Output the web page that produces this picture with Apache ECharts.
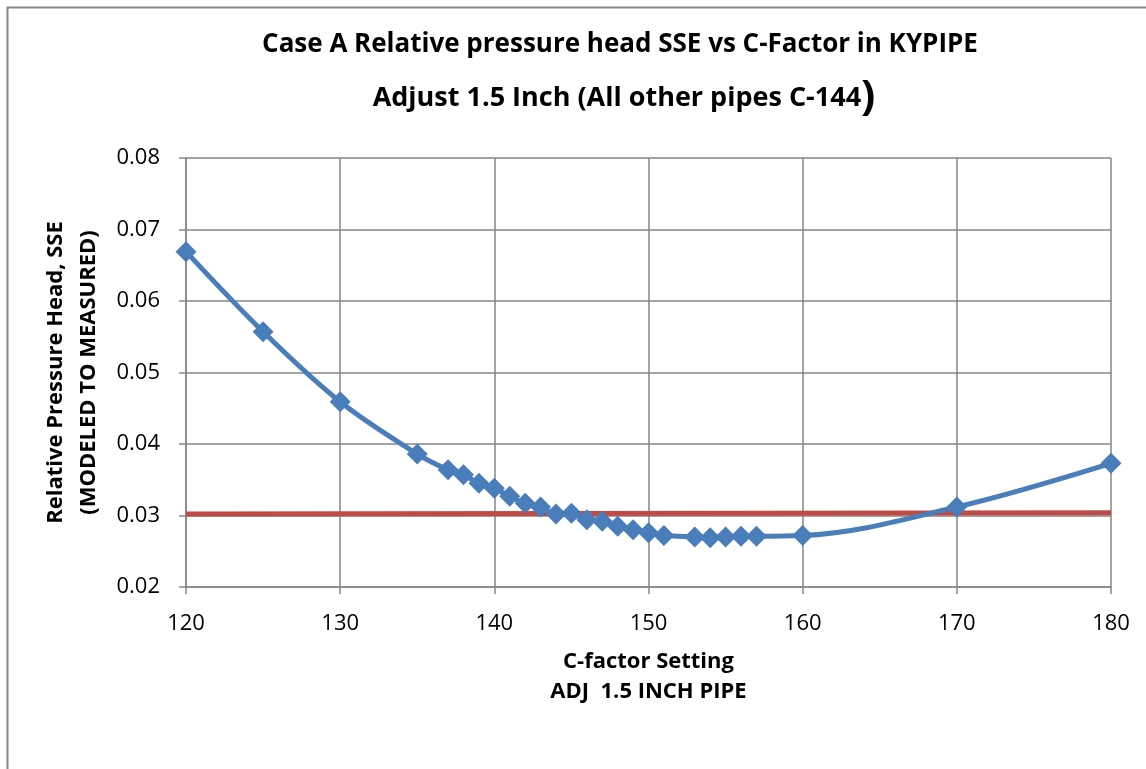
<!DOCTYPE html>
<html>
<head>
<meta charset="utf-8">
<script src="https://cdn.jsdelivr.net/npm/echarts@6/dist/echarts.min.js"></script>
<style>
html,body{margin:0;padding:0;background:#fff;}
#chart{width:1146px;height:769px;}
</style>
</head>
<body>
<div id="chart"></div>
<script>
const titleLine1 = 'Case A Relative pressure head SSE vs C-Factor in KYPIPE';
const titleLine2 = 'Adjust 1.5 Inch (All other pipes C-144';
const xTitle = 'C-factor Setting\nADJ  1.5 INCH PIPE';
const yTitle = 'Relative Pressure Head, SSE\n(MODELED TO MEASURED)';

const cFactor = [120,125,130,135,137,138,139,140,141,142,143,144,145,146,147,148,149,150,151,153,154,155,156,157,160,170,180];
const sse = [0.0669,0.0557,0.0459,0.0386,0.0364,0.0357,0.0345,0.0338,0.0327,0.0317,0.0312,0.0302,0.0303,0.0294,0.0292,0.0285,0.0280,0.0276,0.0272,0.0270,0.0269,0.0270,0.0271,0.0271,0.0272,0.0312,0.0373];
const refX = [120,180];
const refY = [0.0302,0.0304];

const FONT = '"Open Sans", "Noto Sans", sans-serif';
const chart = echarts.init(document.getElementById('chart'));
chart.setOption({
  backgroundColor:'#fff',
  animation:false,
  graphic:[
    {type:'rect', shape:{x:7.5,y:7.5,width:1200,height:800}, style:{fill:'none',stroke:'#868686',lineWidth:2}, silent:true},
    {type:'text', x:620, y:45, style:{text:titleLine1, font:'bold 26px '+FONT, fill:'#000', textAlign:'center', textVerticalAlign:'middle'}},
    {type:'text', x:624, y:98, style:{text:'{a|'+titleLine2+'}{b|)}', textAlign:'center', textVerticalAlign:'middle',
      rich:{a:{font:'bold 27px '+FONT, color:'#000'}, b:{font:'bold 42px '+FONT, color:'#000'}}}}
  ],
  grid:{left:186, right:35, top:158, bottom:182, containLabel:false},
  xAxis:{
    type:'value', min:120, max:180, interval:10,
    name:xTitle, nameLocation:'middle', nameGap:60,
    nameTextStyle:{fontFamily:FONT, fontWeight:'bold', fontSize:22, color:'#000', lineHeight:30},
    axisLine:{show:true, lineStyle:{color:'#868686', width:1.5}},
    axisTick:{show:true, length:7, lineStyle:{color:'#868686', width:1.5}},
    axisLabel:{fontFamily:FONT, fontSize:22, color:'#000', margin:26},
    splitLine:{show:true, lineStyle:{color:'#868686', width:1.5}}
  },
  yAxis:{
    type:'value', min:0.02, max:0.08, interval:0.01,
    name:yTitle, nameLocation:'middle', nameGap:74, nameRotate:90,
    nameTextStyle:{fontFamily:FONT, fontWeight:'bold', fontSize:22, color:'#000', lineHeight:33},
    axisLine:{show:true, lineStyle:{color:'#868686', width:1.5}},
    axisTick:{show:true, length:7, lineStyle:{color:'#868686', width:1.5}},
    axisLabel:{fontFamily:FONT, fontSize:22, color:'#000', margin:26, formatter:v=>v.toFixed(2)},
    splitLine:{show:true, lineStyle:{color:'#868686', width:1.5}}
  },
  series:[
    {type:'line', data:refX.map((x,i)=>[x,refY[i]]), showSymbol:false, symbol:'none',
      lineStyle:{color:'#BE4B48', width:5}, z:2},
    {type:'line', data:cFactor.map((x,i)=>[x,sse[i]]), smooth:0.35,
      symbol:'diamond', symbolSize:21, itemStyle:{color:'#4A7EBB'},
      lineStyle:{color:'#4A7EBB', width:5}, z:3}
  ]
});
</script>
</body>
</html>
